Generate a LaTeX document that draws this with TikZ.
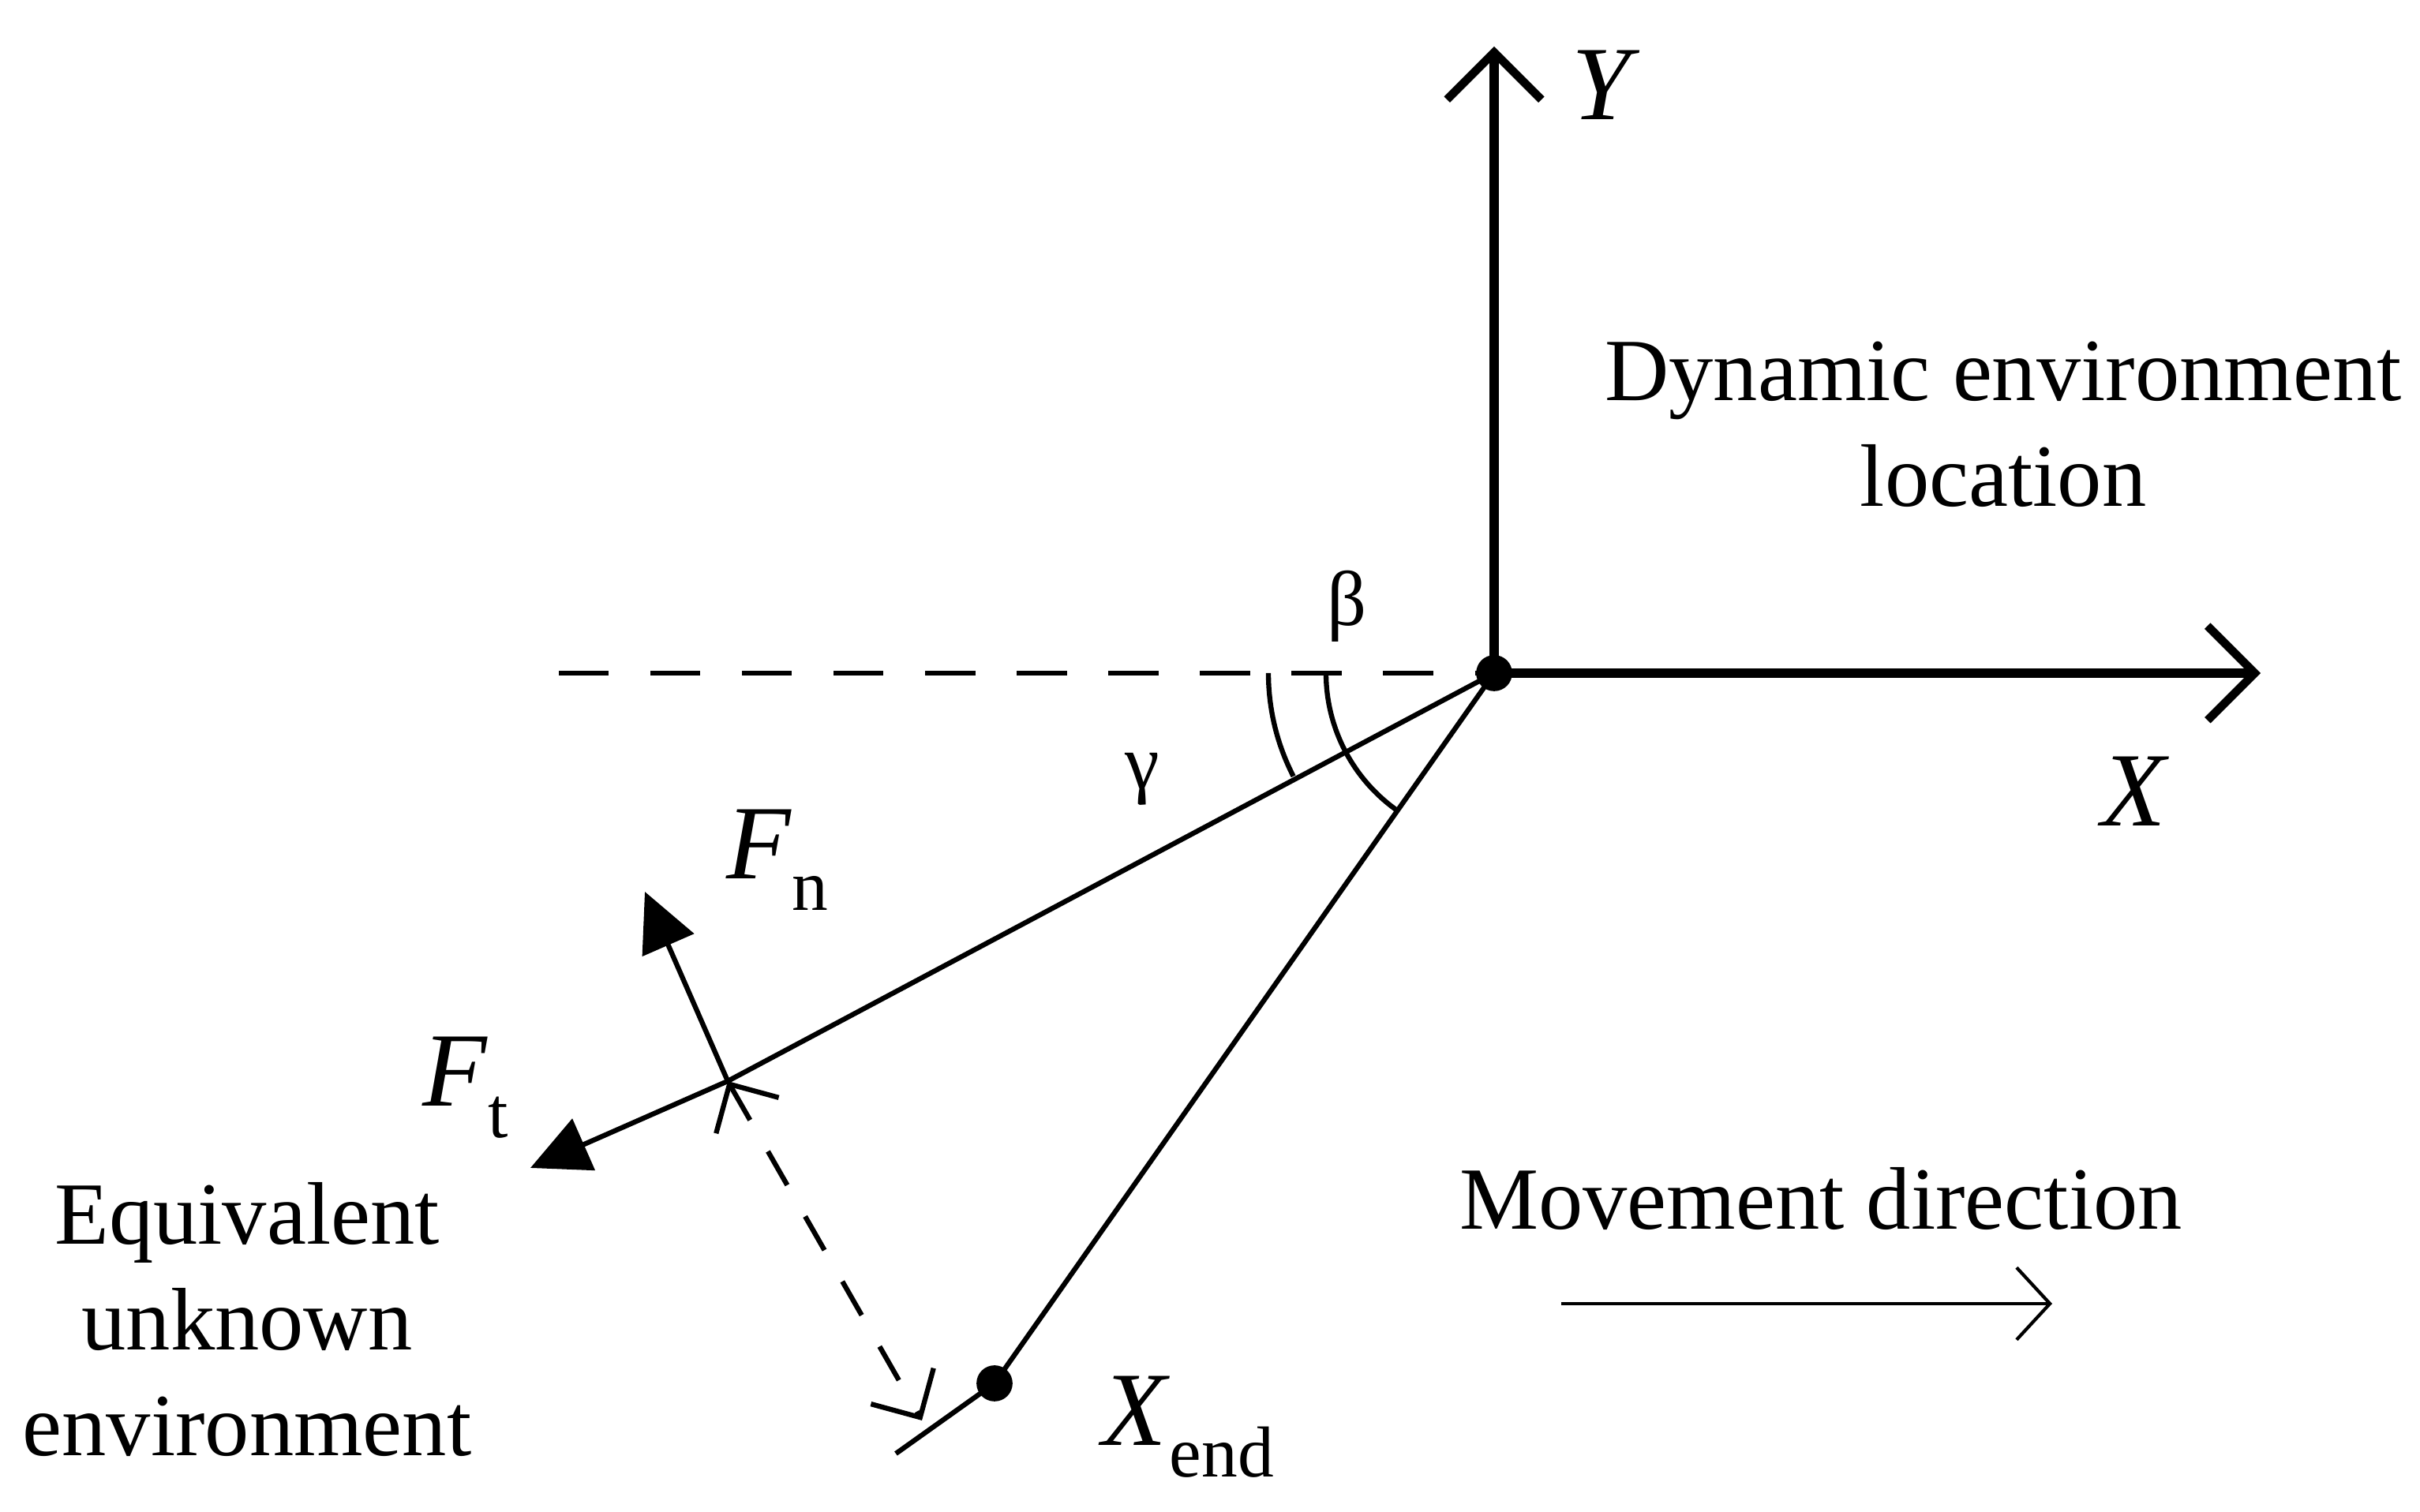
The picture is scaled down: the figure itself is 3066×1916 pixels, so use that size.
\documentclass[tikz,border=0pt]{standalone}
\usepackage{fontspec}
\setmainfont{Liberation Serif}
\usetikzlibrary{arrows.meta,calc}
\begin{document}
\begin{tikzpicture}[x=0.01cm,y=0.01cm,
  thin line/.style={line width=1.8pt},
  axis/.style={line width=3.6pt,-{Straight Barb[length=17pt,width=34pt,line width=3pt]}},
  force/.style={thin line,-{Triangle[length=21pt,width=20pt]}},
  dashline/.style={thin line,dash pattern=on 18pt off 15pt},
  dot/.style={circle,fill=black,inner sep=0pt,minimum size=13pt},
  lbl/.style={font=\fontsize{32}{38}\selectfont,align=center,inner sep=0pt},
  sym/.style={font=\fontsize{38}{44}\selectfont,inner sep=0pt},
  greek/.style={font=\fontsize{28}{32}\selectfont,inner sep=0pt}]
\useasboundingbox (0,0) rectangle (3066,1916);
\coordinate (O) at (1893,1063);
\coordinate (Ytop) at (1893,1857);
\coordinate (Xend) at (2864,1063);
\coordinate (Dl) at (708,1063);
\coordinate (Ft) at (672,436);
\coordinate (P) at (922,546);
\coordinate (Fn) at (817,786);
\coordinate (E) at (1260,163);
\coordinate (Eb) at (1135,74);
\coordinate (Dd) at (1168,116);
\coordinate (M1) at (1978,264);
\coordinate (M2) at (2600,264);
% dashed reference line
\draw[dashline] (Dl) -- (O);
% axes
\draw[axis] (O) -- (Ytop);
\draw[axis] (O) -- (Xend);
% arcs
\draw[thin line] ($(O)+(-286,0)$) arc[start angle=180,end angle=207.2,radius=2.86cm];
\draw[thin line] ($(O)+(-213,0)$) arc[start angle=180,end angle=234.9,radius=2.13cm];
% lines
\draw[thin line] (O) -- (P);
\draw[force] (P) -- (Ft);
\draw[force] (P) -- (Fn);
\draw[thin line] (O) -- (E) -- (Eb);
\draw[thin line,dash pattern=on 14pt off 13pt,{Straight Barb[length=13pt,width=26pt]}-{Straight Barb[length=13pt,width=26pt]}] (P) -- (Dd);
\node[dot] (Od) at (O) {};
\node[dot] (Ed) at (E) {};
\draw[line width=1.2pt,-{Straight Barb[length=12pt,width=26pt]}] (M1) -- (M2);
% labels
\node[sym] (lY) at (2035,1808) {\textit{Y}};
\node[sym] (lX) at (2705,913) {\textit{X}};
\node[greek] (lb) at (1707,1148) {β};
\node[greek] (lg) at (1447,929) {γ};
\node[sym] (lFn) at (985,826) {\textit{F}\raisebox{-0.3em}{\fontsize{26}{30}\selectfont n}};
\node[sym] (lFt) at (590,538) {\textit{F}\raisebox{-0.3em}{\fontsize{26}{30}\selectfont t}};
\node[sym] (lXe) at (1505,108) {\textit{X}\raisebox{-0.3em}{\fontsize{26}{30}\selectfont end}};
\node[lbl] (dyn) at (2538,1378) {Dynamic environment\\location};
\node[lbl] (equ) at (313,244) {Equivalent\\unknown\\environment};
\node[lbl] (mov) at (2307,397) {Movement direction};
\end{tikzpicture}
\end{document}
